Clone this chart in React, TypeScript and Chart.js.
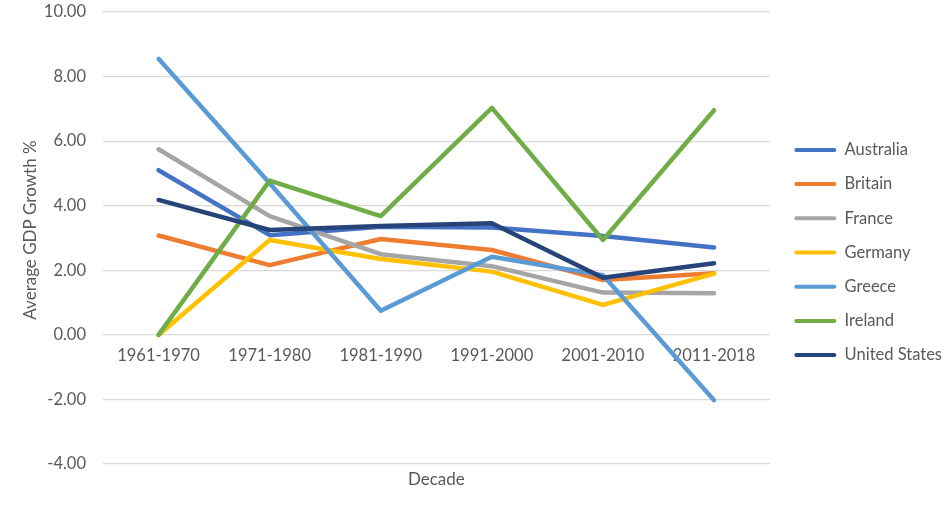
import React, { useEffect, useRef } from "react";
import { Chart, registerables } from "chart.js";

Chart.register(...registerables);

const categories = ["1961-1970", "1971-1980", "1981-1990", "1991-2000", "2001-2010", "2011-2018"];
const seriesNames = ["Australia", "Britain", "France", "Germany", "Greece", "Ireland", "United States"];
const seriesColors = ["#4472C4", "#ED7D31", "#A5A5A5", "#FFC000", "#5B9BD5", "#70AD47", "#264478"];
const australia = [5.1, 3.09, 3.35, 3.33, 3.06, 2.71];
const britain = [3.08, 2.16, 2.97, 2.63, 1.7, 1.91];
const france = [5.75, 3.68, 2.5, 2.13, 1.31, 1.29];
const germany = [0, 2.94, 2.35, 1.96, 0.93, 1.9];
const greece = [8.55, 4.7, 0.75, 2.42, 1.85, -2.02];
const ireland = [0, 4.78, 3.68, 7.03, 2.94, 6.96];
const unitedStates = [4.18, 3.25, 3.37, 3.46, 1.77, 2.22];
const seriesValues = [australia, britain, france, germany, greece, ireland, unitedStates];
const yMin = -4;
const yMax = 10;
const yStep = 2;
const xTitle = "Decade";
const yTitle = "Average GDP Growth %";

const TEXT = "#595959";
const FONT = "Lato";

const yTitlePlugin = {
  id: "yTitlePlugin",
  afterDraw(chart: any) {
    const { ctx, chartArea } = chart;
    const yScale = chart.scales.y;
    ctx.save();
    ctx.fillStyle = TEXT;
    ctx.font = `17px ${FONT}`;
    ctx.textAlign = "center";
    ctx.textBaseline = "middle";
    ctx.translate(yScale.left + 31, (chartArea.top + chartArea.bottom) / 2 - 8);
    ctx.rotate(-Math.PI / 2);
    ctx.fillText(yTitle, 0, 0);
    ctx.restore();
  },
};

export default function App() {
  const ref = useRef<HTMLCanvasElement | null>(null);

  useEffect(() => {
    let chart: any = null;
    let cancelled = false;
    const build = () => {
      if (cancelled || !ref.current) return;
      const n = seriesNames.length;
      chart = new Chart(ref.current, {
        type: "line",
        data: {
          labels: categories,
          datasets: seriesNames.map((name, i) => ({
            label: name,
            data: seriesValues[i],
            borderColor: seriesColors[i],
            backgroundColor: seriesColors[i],
            borderWidth: 4.5,
            pointRadius: 0,
            pointHoverRadius: 0,
            tension: 0,
            borderCapStyle: "round",
            borderJoinStyle: "round",
            order: n - i,
          })),
        },
        options: {
          animation: false,
          responsive: true,
          maintainAspectRatio: false,
          layout: { padding: 0 },
          plugins: {
            tooltip: { enabled: false },
            legend: {
              position: "right",
              align: "center",
              maxWidth: 400,
              labels: {
                boxWidth: 42,
                boxHeight: 4,
                padding: 17.7,
                color: TEXT,
                font: { family: FONT, size: 16.5 },
                useBorderRadius: true,
                borderRadius: 2,
                sort: (a: any, b: any) => a.datasetIndex - b.datasetIndex,
                generateLabels: (c: any) =>
                  Chart.defaults.plugins.legend.labels
                    .generateLabels(c)
                    .map((l: any) => ({ ...l, lineWidth: 0, fillStyle: l.strokeStyle })),
              },
            },
          },
          scales: {
            x: {
              type: "category",
              offset: true,
              grid: { display: false, drawTicks: false },
              border: { display: false },
              ticks: { display: false },
              title: {
                display: true,
                text: xTitle,
                color: TEXT,
                font: { family: FONT, size: 17 },
                padding: { top: 5, bottom: 15.5 },
              },
            },
            xLabels: {
              type: "category",
              axis: "x",
              labels: categories,
              offset: true,
              position: { y: 0 },
              grid: { display: false, drawTicks: false },
              border: { display: false },
              ticks: { color: TEXT, font: { family: FONT, size: 16.5 }, padding: 11, maxRotation: 0, autoSkip: false },
            },
            y: {
              type: "linear",
              min: yMin,
              max: yMax,
              ticks: {
                stepSize: yStep,
                color: TEXT,
                font: { family: FONT, size: 16.5 },
                padding: 17,
                callback: (v: any) => Number(v).toFixed(2),
              },
              grid: { color: "#D9D9D9", lineWidth: 1.3, drawTicks: false },
              border: { display: false },
              title: { display: false },
              afterFit: (s: any) => {
                s.width = 103;
                s.paddingTop = 12;
                s.paddingBottom = 0;
              },
            },
            yGap: {
              type: "linear",
              axis: "y",
              position: "right",
              grid: { display: false, drawTicks: false },
              border: { display: false },
              ticks: { display: false },
              afterFit: (s: any) => {
                s.width = 7;
                s.paddingTop = 0;
                s.paddingBottom = 0;
              },
            },
          },
        } as any,
        plugins: [yTitlePlugin],
      });
    };
    const fonts: any = (document as any).fonts;
    if (fonts && fonts.load) {
      Promise.all([fonts.load(`16.5px ${FONT}`), fonts.load(`17px ${FONT}`)])
        .catch(() => null)
        .then(build);
    } else {
      build();
    }
    return () => {
      cancelled = true;
      if (chart) chart.destroy();
    };
  }, []);

  return (
    <div style={{ position: "fixed", left: 0, top: 0, width: 952, height: 505, background: "#fff" }}>
      <canvas ref={ref} />
    </div>
  );
}
